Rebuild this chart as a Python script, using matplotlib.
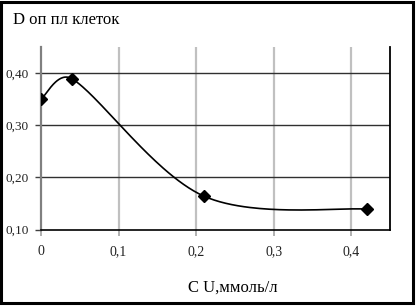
import numpy as np
import matplotlib.pyplot as plt
from matplotlib.patches import Rectangle

plt.rcParams['font.family'] = ['Liberation Serif', 'DejaVu Serif']

conc = [0.0, 0.04, 0.21, 0.42]
dens = [0.35, 0.389, 0.164, 0.139]

xticks = [0, 0.1, 0.2, 0.3, 0.4]
xlabels = ["0", "0,1", "0,2", "0,3", "0,4"]
yticks = [0.10, 0.20, 0.30, 0.40]
ylabels = ["0,10", "0,20", "0,30", "0,40"]

fig = plt.figure(figsize=(4.16, 3.06), dpi=100)
ax = fig.add_axes([41/416, 1-229.5/306, 349/416, 182.5/306])
ax.set_xlim(0, 0.45)
ax.set_ylim(0.10, 0.45)

# smoothed line like the spreadsheet "smooth" option (bezier through points, in screen space)
def smooth(xs, ys, n=60):
    P = ax.transData.transform(np.column_stack([xs, ys]))
    m = len(P)
    out = []
    for i in range(m-1):
        a, b = P[i], P[i+1]
        L = np.linalg.norm(b-a)
        prev = P[i-1] if i > 0 else P[i]
        nxt = P[i+2] if i+2 < m else P[i+1]
        d1 = b - prev
        d2 = nxt - a
        l1 = min(np.linalg.norm(d1)/6, L*0.45)
        l2 = min(np.linalg.norm(d2)/6, L*0.45)
        c1 = a + d1/np.linalg.norm(d1)*l1
        c2 = b - d2/np.linalg.norm(d2)*l2
        t = np.linspace(0, 1, n)[:, None]
        seg = (1-t)**3*a + 3*(1-t)**2*t*c1 + 3*(1-t)*t**2*c2 + t**3*b
        out.append(seg)
    pts = np.vstack(out)
    return ax.transData.inverted().transform(pts)

curve = smooth(conc, dens)
ax.plot(curve[:, 0], curve[:, 1], color='black', lw=1.2, zorder=3)
ax.plot(conc, dens, 'D', color='black', ms=6, zorder=4)

for xv in xticks[1:]:
    ax.axvline(xv, color='#c0c0c0', lw=1.6, zorder=1)
for yv in yticks[1:]:
    ax.axhline(yv, color='#303030', lw=1.0, zorder=2)

ax.set_xticks(xticks)
ax.set_xticklabels(xlabels)
ax.set_yticks(yticks)
ax.set_yticklabels(ylabels)
ax.tick_params(axis='x', length=4, width=1.4, color='#b0b0b0', pad=7, labelsize=10, labelcolor='#222222')
ax.tick_params(axis='y', length=4, width=1.0, color='#404040', pad=5, labelsize=9.5, labelcolor='#222222')

ax.spines['top'].set_visible(False)
ax.spines['left'].set_color('#808080')
ax.spines['left'].set_linewidth(1.6)
ax.spines['right'].set_color('black')
ax.spines['right'].set_linewidth(1.3)
ax.spines['bottom'].set_color('black')
ax.spines['bottom'].set_linewidth(1.2)

fig.text(13/416, 1-20/306, "D оп пл клеток", fontsize=12, va='center', ha='left')
fig.text(233/416, 1-288/306, "C U,ммоль/л", fontsize=12, va='center', ha='center')

fig.patches.append(Rectangle((1/416, 3/306), 412/416, 301/306, transform=fig.transFigure,
                             fill=False, edgecolor='black', lw=2.2))

fig.savefig('out.png', dpi=100)
